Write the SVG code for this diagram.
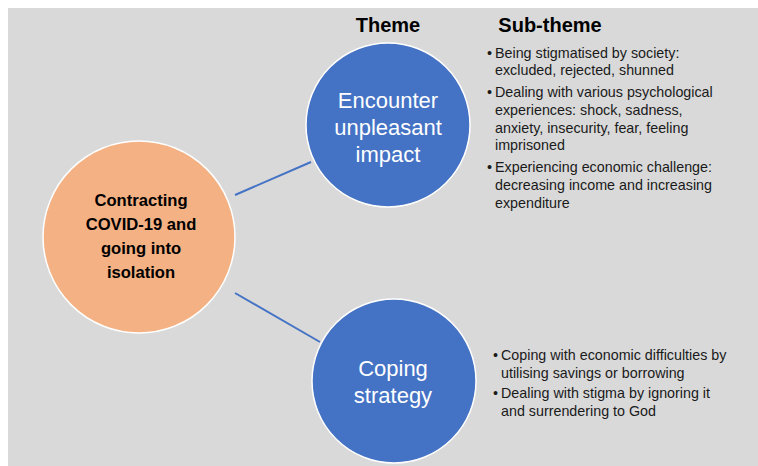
<svg xmlns="http://www.w3.org/2000/svg" width="758" height="466" viewBox="0 0 758 466">
<style>
.hdr{font-family:"Liberation Sans",Arial,sans-serif;font-weight:bold;font-size:20px;fill:#000;text-anchor:middle}
.sub{font-family:"Liberation Sans",Arial,sans-serif;font-size:14.3px;fill:#1a1a1a}
.theme{font-family:"Liberation Sans",Arial,sans-serif;font-size:22px;fill:#fff;text-anchor:middle}
.core{font-family:"Liberation Sans",Arial,sans-serif;font-weight:bold;font-size:16.6px;fill:#000;text-anchor:middle}
.blue{fill:#4472c4;stroke:#fff;stroke-width:1.5}
.orange{fill:#f4b183;stroke:#fff;stroke-width:1.5}
.conn{stroke:#4472c4;stroke-width:2;fill:none}
</style>
<rect x="8" y="8" width="750" height="458" fill="#d9d9d9"/>
<text class="hdr" x="388" y="32">Theme</text>
<text class="hdr" x="550" y="32">Sub-theme</text>
<g id="connectors">
<line class="conn" x1="235" y1="195" x2="311" y2="162"/>
<line class="conn" x1="235" y1="293" x2="320" y2="342"/>
</g>
<g id="core">
<circle class="orange" cx="139" cy="237" r="96"/>
<text class="core" x="141" y="206">Contracting</text>
<text class="core" x="141" y="230">COVID-19 and</text>
<text class="core" x="141" y="254">going into</text>
<text class="core" x="141" y="278">isolation</text>
</g>
<g id="theme1">
<circle class="blue" cx="388" cy="125" r="82"/>
<text class="theme" x="388" y="108">Encounter</text>
<text class="theme" x="388" y="135">unpleasant</text>
<text class="theme" x="388" y="162">impact</text>
</g>
<g id="theme2">
<circle class="blue" cx="394" cy="381" r="82"/>
<text class="theme" x="393" y="376">Coping</text>
<text class="theme" x="393" y="403">strategy</text>
</g>
<g id="subthemes1" class="sub">
<text x="487" y="58">•</text><text x="495" y="58">Being stigmatised by society:</text>
<text x="495" y="75">excluded, rejected, shunned</text>
<text x="487" y="97">•</text><text x="495" y="97">Dealing with various psychological</text>
<text x="495" y="115">experiences: shock, sadness,</text>
<text x="495" y="133">anxiety, insecurity, fear, feeling</text>
<text x="495" y="150">imprisoned</text>
<text x="487" y="172">•</text><text x="495" y="172">Experiencing economic challenge:</text>
<text x="495" y="190">decreasing income and increasing</text>
<text x="495" y="208">expenditure</text>
</g>
<g id="subthemes2" class="sub">
<text x="493" y="360">•</text><text x="501" y="360">Coping with economic difficulties by</text>
<text x="501" y="378">utilising savings or borrowing</text>
<text x="493" y="398">•</text><text x="501" y="398">Dealing with stigma by ignoring it</text>
<text x="501" y="416">and surrendering to God</text>
</g>
</svg>
